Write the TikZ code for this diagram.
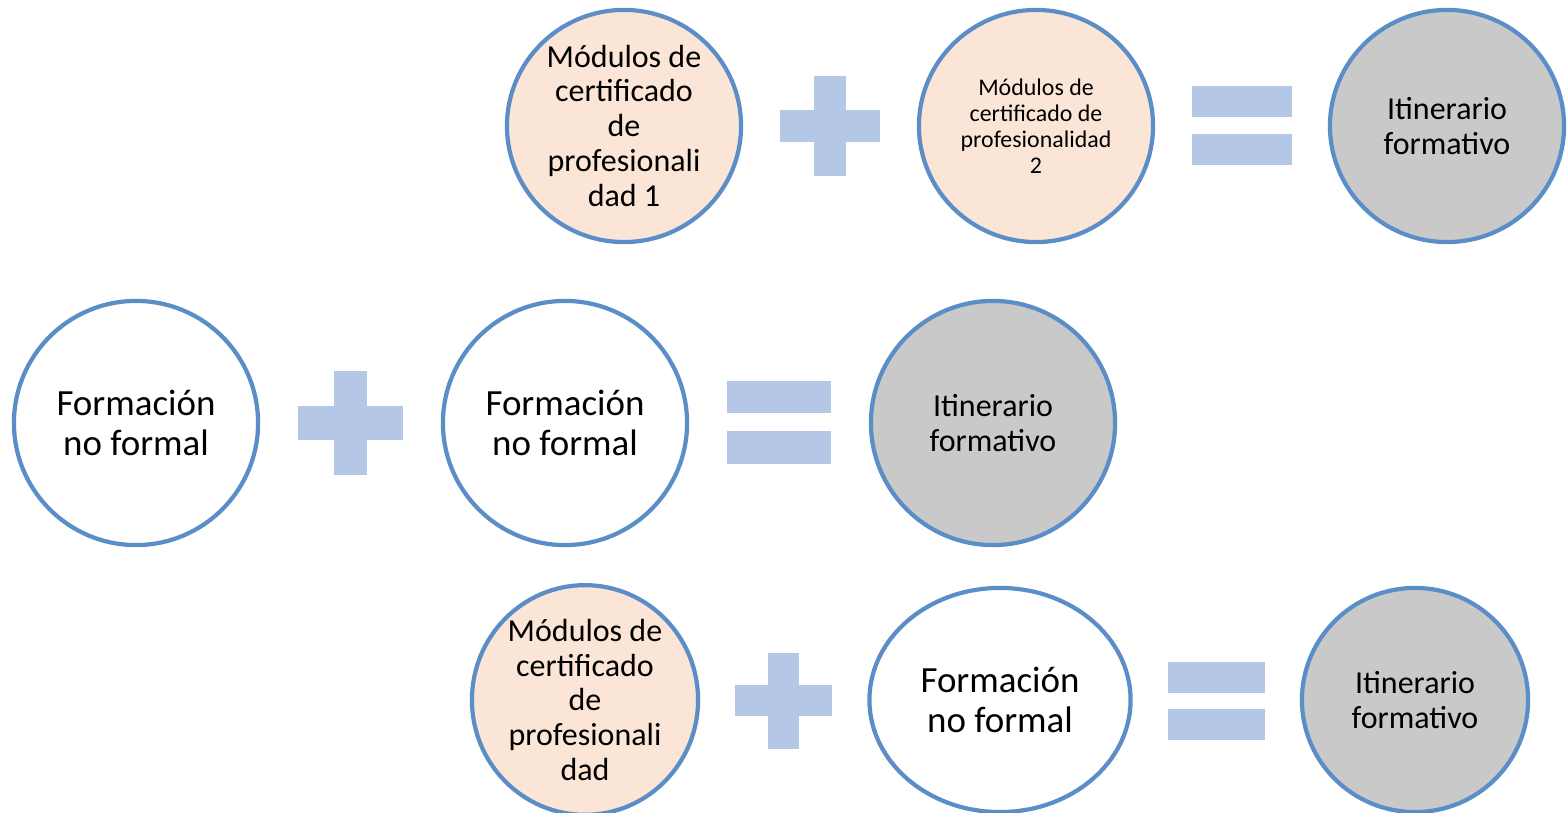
\documentclass[tikz,border=0pt]{standalone}
\usepackage{fontspec}
\setmainfont{Carlito}
\usepackage{tikz}
\usetikzlibrary{shapes.geometric}
\definecolor{borde}{HTML}{5B8EC7}
\definecolor{melocoton}{HTML}{FBE5D6}
\definecolor{gris}{HTML}{C9C9C9}
\definecolor{signo}{HTML}{B4C7E7}
\tikzstyle{modulo} = [ellipse, draw=borde, line width=1.2pt, fill=melocoton, align=center, inner sep=0pt]
\tikzstyle{noformal} = [ellipse, draw=borde, line width=1.2pt, fill=white, align=center, inner sep=0pt]
\tikzstyle{itinerario} = [ellipse, draw=borde, line width=1.2pt, fill=gris, align=center, inner sep=0pt]
\tikzstyle{signofill} = [fill=signo]

\begin{document}
\begin{tikzpicture}[x=0.01cm, y=-0.01cm]

        \useasboundingbox (0,0) rectangle (1567,813);

        % fila 1
        \node (mod1) [modulo, minimum width=2.34cm, minimum height=2.32cm, font=\fontsize{9.1}{9.95}\selectfont] at (624,126) {Módulos de\\certificado\\de\\profesionali\\dad 1};
        \node (mod2) [modulo, minimum width=2.34cm, minimum height=2.32cm, font=\fontsize{6.8}{7.4}\selectfont] at (1036,126) {Módulos de\\certificado de\\profesionalidad\\2};
        \node (itin1) [itinerario, minimum width=2.34cm, minimum height=2.32cm, font=\fontsize{9.1}{10.2}\selectfont] at (1447,126) {Itinerario\\formativo};

        \fill[signofill] (780,110) rectangle (880,142);
        \fill[signofill] (814,76) rectangle (846,176);
        \fill[signofill] (1192,86) rectangle (1292,117);
        \fill[signofill] (1192,134) rectangle (1292,165);

        % fila 2
        \node (nf1) [noformal, minimum width=2.44cm, minimum height=2.44cm, font=\fontsize{10.5}{11.5}\selectfont] at (136,423) {Formación\\no formal};
        \node (nf2) [noformal, minimum width=2.44cm, minimum height=2.44cm, font=\fontsize{10.5}{11.5}\selectfont] at (565,423) {Formación\\no formal};
        \node (itin2) [itinerario, minimum width=2.44cm, minimum height=2.44cm, font=\fontsize{9.1}{10.2}\selectfont] at (993,423) {Itinerario\\formativo};

        \fill[signofill] (298,406) rectangle (403,440);
        \fill[signofill] (334,371) rectangle (367,475);
        \fill[signofill] (727,381) rectangle (831,413);
        \fill[signofill] (727,431) rectangle (831,464);

        % fila 3
        \node (mod3) [modulo, minimum width=2.26cm, minimum height=2.24cm, font=\fontsize{9.1}{9.95}\selectfont] at (585,700) {Módulos de\\certificado\\de\\profesionali\\dad};
        \node (nf3) [noformal, minimum width=2.61cm, minimum height=2.24cm, font=\fontsize{10.5}{11.5}\selectfont] at (1000,700) {Formación\\no formal};
        \node (itin3) [itinerario, minimum width=2.26cm, minimum height=2.24cm, font=\fontsize{9.1}{10.2}\selectfont] at (1415,700) {Itinerario\\formativo};

        \fill[signofill] (735,685) rectangle (832,716);
        \fill[signofill] (768,653) rectangle (799,749);
        \fill[signofill] (1168,662) rectangle (1265,693);
        \fill[signofill] (1168,709) rectangle (1265,740);

    \end{tikzpicture}
\end{document}
